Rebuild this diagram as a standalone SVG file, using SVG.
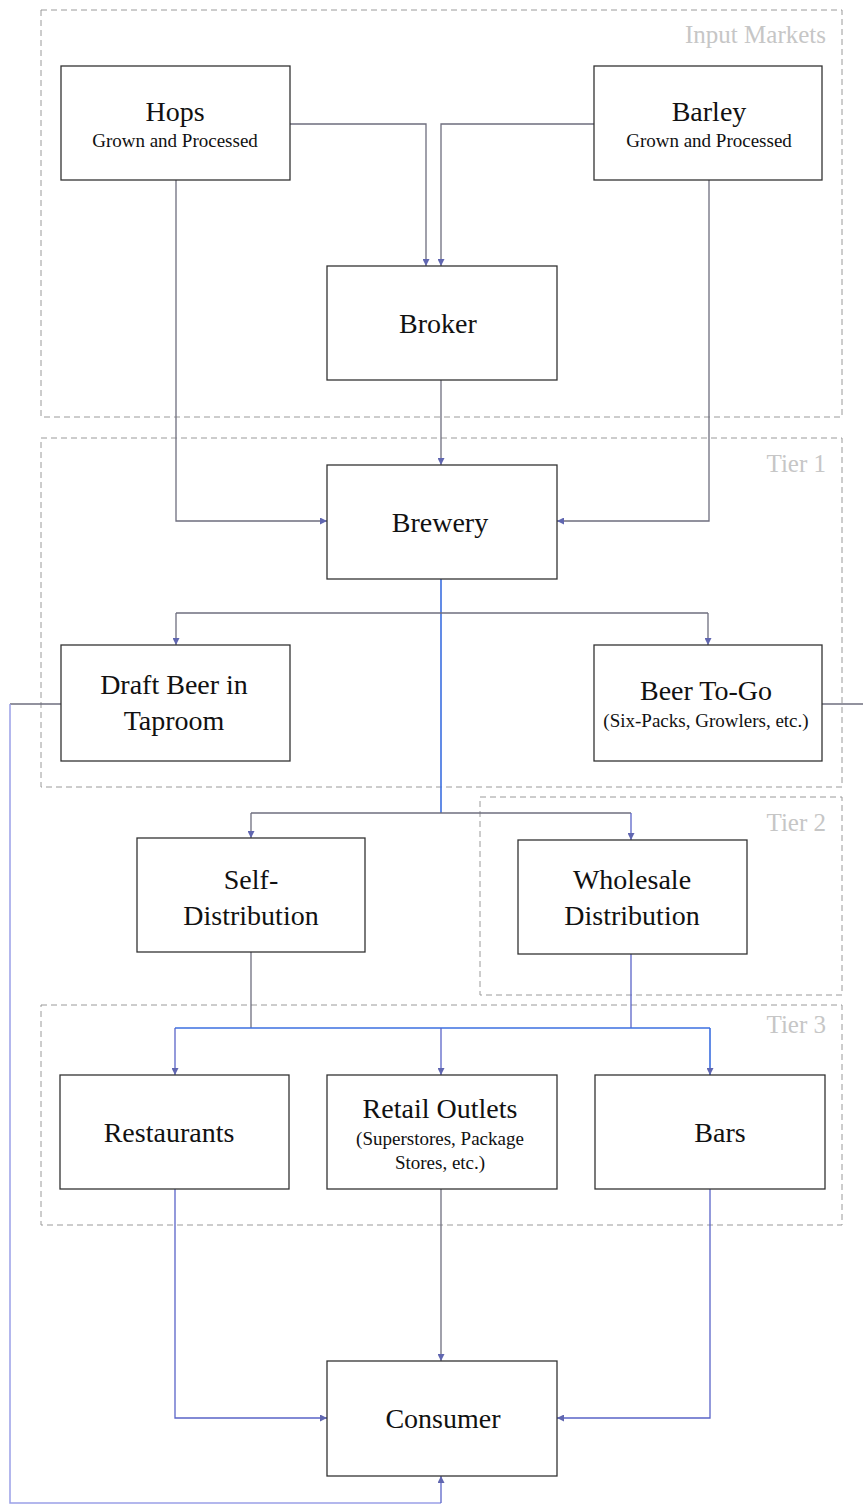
<svg xmlns="http://www.w3.org/2000/svg" width="863" height="1505" viewBox="0 0 863 1505">
<style>
.box{fill:#fff;stroke:#333;stroke-width:1.3}
.zone{fill:none;stroke:#9a9a9a;stroke-width:1;stroke-dasharray:6 4}
.zl{font-family:"Liberation Serif",serif;font-size:25px;fill:#c6c6c6;text-anchor:end}
.t{font-family:"Liberation Serif",serif;font-size:28px;fill:#111;text-anchor:middle}
.s{font-family:"Liberation Serif",serif;font-size:19px;fill:#111;text-anchor:middle}
.c{fill:none;stroke:#6e6e7e;stroke-width:1.3}
.b{fill:none;stroke:#5a64c8;stroke-width:1.3}
.bb{fill:none;stroke:#3b6fe0;stroke-width:1.6}
.lb{fill:none;stroke:#9aa0e8;stroke-width:1.5}
</style>
<defs>
<marker id="ah" viewBox="0 0 10 10" refX="10" refY="5" markerWidth="7" markerHeight="7" orient="auto" markerUnits="userSpaceOnUse"><path d="M0,0 L10,5 L0,10 z" fill="#6066b0"/></marker>
</defs>
<g id="zones">
<rect class="zone" x="41" y="10" width="801" height="407"/>
<text class="zl" x="826" y="43">Input Markets</text>
<rect class="zone" x="41" y="438" width="801" height="349"/>
<text class="zl" x="826" y="472">Tier 1</text>
<rect class="zone" x="480" y="797" width="362" height="198"/>
<text class="zl" x="826" y="831">Tier 2</text>
<rect class="zone" x="41" y="1005" width="801" height="220"/>
<text class="zl" x="826" y="1033">Tier 3</text>
</g>
<g id="connectors">
<path class="c" d="M290,124 H426 V266" marker-end="url(#ah)"/>
<path class="c" d="M594,124 H441 V266" marker-end="url(#ah)"/>
<path class="c" d="M176,180 V521 H327" marker-end="url(#ah)"/>
<path class="c" d="M709,180 V521 H557" marker-end="url(#ah)"/>
<path class="c" d="M441,380 V465" marker-end="url(#ah)"/>
<path class="bb" d="M441,579 V813"/>
<path class="c" d="M176,613 H708"/>
<path class="c" d="M176,613 V645" marker-end="url(#ah)"/>
<path class="c" d="M708,613 V645" marker-end="url(#ah)"/>
<path class="c" d="M251,813 H631"/>
<path class="c" d="M251,813 V838" marker-end="url(#ah)"/>
<path class="b" d="M631,813 V840" marker-end="url(#ah)"/>
<path class="c" d="M251,952 V1028"/>
<path class="b" d="M631,954 V1028"/>
<path class="bb" d="M175,1028 H710"/>
<path class="b" d="M175,1028 V1075" marker-end="url(#ah)"/>
<path class="b" d="M441,1028 V1075" marker-end="url(#ah)"/>
<path class="bb" d="M710,1028 V1075" marker-end="url(#ah)"/>
<path class="b" d="M175,1189 V1418 H327" marker-end="url(#ah)"/>
<path class="c" d="M441,1189 V1361" marker-end="url(#ah)"/>
<path class="b" d="M710,1189 V1418 H557" marker-end="url(#ah)"/>
<path class="c" d="M61,704 H10"/>
<path class="lb" d="M10,704 V1503 H441"/>
<path class="b" d="M441,1503 V1476" stroke-width="2" marker-end="url(#ah)"/>
<path class="c" d="M822,704 H863"/>
</g>
<g id="hops"><rect class="box" x="61" y="66" width="229" height="114"/><text class="t" x="175" y="121">Hops</text><text class="s" x="175" y="147">Grown and Processed</text></g>
<g id="barley"><rect class="box" x="594" y="66" width="228" height="114"/><text class="t" x="709" y="121">Barley</text><text class="s" x="709" y="147">Grown and Processed</text></g>
<g id="broker"><rect class="box" x="327" y="266" width="230" height="114"/><text class="t" x="438" y="333">Broker</text></g>
<g id="brewery"><rect class="box" x="327" y="465" width="230" height="114"/><text class="t" x="440" y="532">Brewery</text></g>
<g id="taproom"><rect class="box" x="61" y="645" width="229" height="116"/><text class="t" x="174" y="694">Draft Beer in</text><text class="t" x="174" y="730">Taproom</text></g>
<g id="togo"><rect class="box" x="594" y="645" width="228" height="116"/><text class="t" x="706" y="700">Beer To-Go</text><text class="s" x="706" y="727">(Six-Packs, Growlers, etc.)</text></g>
<g id="self"><rect class="box" x="137" y="838" width="228" height="114"/><text class="t" x="251" y="889">Self-</text><text class="t" x="251" y="925">Distribution</text></g>
<g id="wholesale"><rect class="box" x="518" y="840" width="229" height="114"/><text class="t" x="632" y="889">Wholesale</text><text class="t" x="632" y="925">Distribution</text></g>
<g id="restaurants"><rect class="box" x="60" y="1075" width="229" height="114"/><text class="t" x="169" y="1142">Restaurants</text></g>
<g id="retail"><rect class="box" x="327" y="1075" width="230" height="114"/><text class="t" x="440" y="1118">Retail Outlets</text><text class="s" x="440" y="1145">(Superstores, Package</text><text class="s" x="440" y="1169">Stores, etc.)</text></g>
<g id="bars"><rect class="box" x="595" y="1075" width="230" height="114"/><text class="t" x="720" y="1142">Bars</text></g>
<g id="consumer"><rect class="box" x="327" y="1361" width="230" height="115"/><text class="t" x="443" y="1428">Consumer</text></g>
</svg>
